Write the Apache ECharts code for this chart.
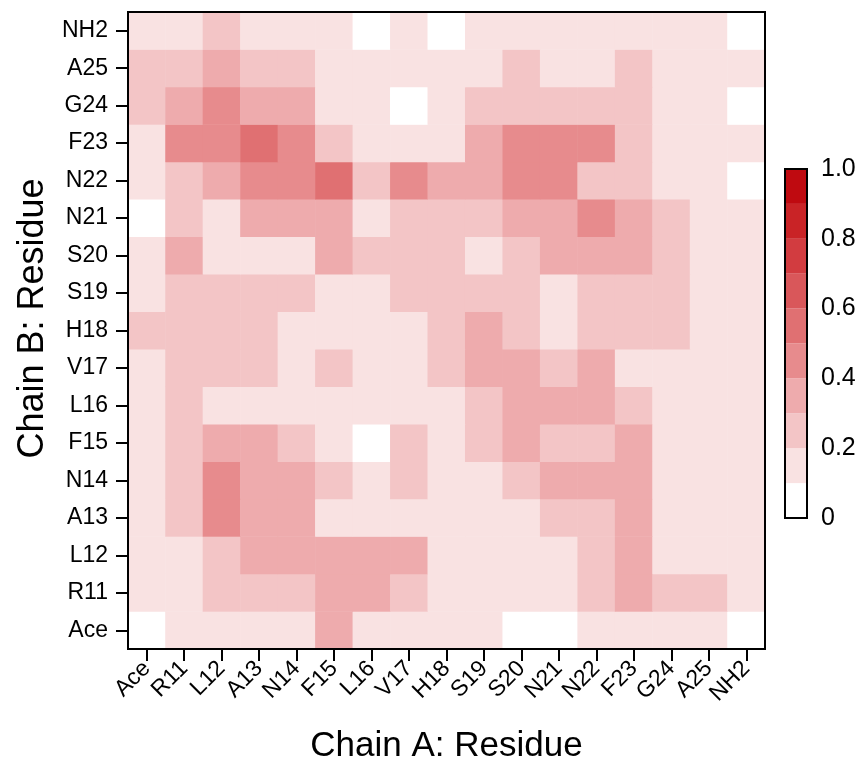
<!DOCTYPE html>
<html>
<head>
<meta charset="utf-8">
<script src="https://cdn.jsdelivr.net/npm/echarts@6/dist/echarts.min.js"></script>
<style>
  html, body { margin: 0; padding: 0; background: #fff; }
  #chart { width: 868px; height: 767px; }
</style>
</head>
<body>
<div id="chart"></div>
<script>
  // residues, same order on both chains
  var residues = ['Ace', 'R11', 'L12', 'A13', 'N14', 'F15', 'L16', 'V17', 'H18',
                  'S19', 'S20', 'N21', 'N22', 'F23', 'G24', 'A25', 'NH2'];

  // contact values, one row per Chain B residue, columns follow Chain A
  var rowNH2 = [0.15,0.15,0.25,0.15,0.15,0.15,0.05,0.15,0.05,0.15,0.15,0.15,0.15,0.15,0.15,0.15,0.05];
  var rowA25 = [0.25,0.25,0.35,0.25,0.25,0.15,0.15,0.15,0.15,0.15,0.25,0.15,0.15,0.25,0.15,0.15,0.15];
  var rowG24 = [0.25,0.35,0.45,0.35,0.35,0.15,0.15,0.05,0.15,0.25,0.25,0.25,0.25,0.25,0.15,0.15,0.05];
  var rowF23 = [0.15,0.45,0.45,0.55,0.45,0.25,0.15,0.15,0.15,0.35,0.45,0.45,0.45,0.25,0.15,0.15,0.15];
  var rowN22 = [0.15,0.25,0.35,0.45,0.45,0.55,0.25,0.45,0.35,0.35,0.45,0.45,0.25,0.25,0.15,0.15,0.05];
  var rowN21 = [0.05,0.25,0.15,0.35,0.35,0.35,0.15,0.25,0.25,0.25,0.35,0.35,0.45,0.35,0.25,0.15,0.15];
  var rowS20 = [0.15,0.35,0.15,0.15,0.15,0.35,0.25,0.25,0.25,0.15,0.25,0.35,0.35,0.35,0.25,0.15,0.15];
  var rowS19 = [0.15,0.25,0.25,0.25,0.25,0.15,0.15,0.25,0.25,0.25,0.25,0.15,0.25,0.25,0.25,0.15,0.15];
  var rowH18 = [0.25,0.25,0.25,0.25,0.15,0.15,0.15,0.15,0.25,0.35,0.25,0.15,0.25,0.25,0.25,0.15,0.15];
  var rowV17 = [0.15,0.25,0.25,0.25,0.15,0.25,0.15,0.15,0.25,0.35,0.35,0.25,0.35,0.15,0.15,0.15,0.15];
  var rowL16 = [0.15,0.25,0.15,0.15,0.15,0.15,0.15,0.15,0.15,0.25,0.35,0.35,0.35,0.25,0.15,0.15,0.15];
  var rowF15 = [0.15,0.25,0.35,0.35,0.25,0.15,0.05,0.25,0.15,0.25,0.35,0.25,0.25,0.35,0.15,0.15,0.15];
  var rowN14 = [0.15,0.25,0.45,0.35,0.35,0.25,0.15,0.25,0.15,0.15,0.25,0.35,0.35,0.35,0.15,0.15,0.15];
  var rowA13 = [0.15,0.25,0.45,0.35,0.35,0.15,0.15,0.15,0.15,0.15,0.15,0.25,0.25,0.35,0.15,0.15,0.15];
  var rowL12 = [0.15,0.15,0.25,0.35,0.35,0.35,0.35,0.35,0.15,0.15,0.15,0.15,0.25,0.35,0.15,0.15,0.15];
  var rowR11 = [0.15,0.15,0.25,0.25,0.25,0.35,0.35,0.25,0.15,0.15,0.15,0.15,0.25,0.35,0.25,0.25,0.15];
  var rowAce = [0.05,0.15,0.15,0.15,0.15,0.35,0.15,0.15,0.15,0.15,0.05,0.05,0.15,0.15,0.15,0.15,0.05];

  // bottom (Ace) to top (NH2), like the y axis
  var rows = [rowAce, rowR11, rowL12, rowA13, rowN14, rowF15, rowL16, rowV17, rowH18,
              rowS19, rowS20, rowN21, rowN22, rowF23, rowG24, rowA25, rowNH2];

  // colour scale: band edges and colours
  var levelEdges = [0, 0.1, 0.2, 0.3, 0.4, 0.5, 0.6, 0.7, 0.8, 0.9, 1.0];
  var levelColors = ['#ffffff', '#f9e2e2', '#f3c5c6', '#eeabad', '#e78b8d',
                     '#e07072', '#d9575a', '#d23c40', '#c92326', '#bf0a10'];
  var scaleTicks = [0, 0.2, 0.4, 0.6, 0.8, 1.0];

  var heatData = [];
  for (var y = 0; y < rows.length; y++) {
    for (var x = 0; x < rows[y].length; x++) {
      heatData.push([x, y, rows[y][x]]);
    }
  }

  var pieces = [];
  for (var i = 0; i < levelColors.length; i++) {
    pieces.push({ gte: levelEdges[i], lt: levelEdges[i + 1], color: levelColors[i] });
  }
  pieces[pieces.length - 1].lte = 1.0;
  delete pieces[pieces.length - 1].lt;

  var font = 'Liberation Sans, Arial, sans-serif';

  var series = [{
    type: 'heatmap',
    xAxisIndex: 0,
    yAxisIndex: 0,
    data: heatData,
    itemStyle: { borderWidth: 0 },
    emphasis: { disabled: true },
    z: 2
  }];
  // colour bar as stacked bars
  for (var b = 0; b < levelColors.length; b++) {
    series.push({
      type: 'bar',
      xAxisIndex: 1,
      yAxisIndex: 1,
      stack: 'scale',
      barWidth: '100%',
      silent: true,
      data: [+(levelEdges[b + 1] - levelEdges[b]).toFixed(2)],
      itemStyle: { color: levelColors[b] },
      z: 2
    });
  }

  var chart = echarts.init(document.getElementById('chart'));
  chart.setOption({
    animation: false,
    backgroundColor: '#fff',
    textStyle: { fontFamily: font, color: '#000' },
    grid: [
      { left: 128, top: 12, width: 637, height: 637, show: true, z: 10,
        outerBoundsMode: 'none', containLabel: false,
        backgroundColor: 'transparent', borderColor: '#000', borderWidth: 2 },
      { left: 785, top: 169, width: 22, height: 349, show: true, z: 10,
        outerBoundsMode: 'none', containLabel: false,
        backgroundColor: 'transparent', borderColor: '#000', borderWidth: 2 }
    ],
    visualMap: {
      type: 'piecewise',
      show: false,
      seriesIndex: 0,
      pieces: pieces
    },
    xAxis: [{
      type: 'category',
      gridIndex: 0,
      data: residues,
      name: 'Chain A: Residue',
      nameLocation: 'middle',
      nameGap: 80,
      nameTextStyle: { fontSize: 35, color: '#000', fontFamily: font },
      axisLine: { show: false },
      axisTick: { show: true, alignWithLabel: true, length: 12, lineStyle: { color: '#000', width: 2 } },
      axisLabel: { rotate: 45, fontSize: 23, color: '#000', margin: 16, interval: 0, fontFamily: font },
      splitLine: { show: false }
    }, {
      type: 'category',
      gridIndex: 1,
      data: [''],
      axisLine: { show: false },
      axisTick: { show: false },
      axisLabel: { show: false }
    }],
    yAxis: [{
      type: 'category',
      gridIndex: 0,
      data: residues,
      name: 'Chain B: Residue',
      nameLocation: 'middle',
      nameGap: 76,
      nameTextStyle: { fontSize: 36, color: '#000', fontFamily: font, padding: [0, 0, 0, 24] },
      axisLine: { show: false },
      axisTick: { show: true, alignWithLabel: true, length: 12, lineStyle: { color: '#000', width: 2 } },
      axisLabel: { fontSize: 23, color: '#000', margin: 20, interval: 0, fontFamily: font },
      splitLine: { show: false }
    }, {
      type: 'value',
      gridIndex: 1,
      position: 'right',
      min: scaleTicks[0],
      max: scaleTicks[scaleTicks.length - 1],
      interval: scaleTicks[1] - scaleTicks[0],
      axisLine: { show: false },
      axisTick: { show: false },
      splitLine: { show: false },
      axisLabel: {
        fontSize: 25, color: '#000', margin: 14, fontFamily: font,
        formatter: function (v) { return v === 0 ? '0' : v.toFixed(1); }
      }
    }],
    series: series
  });
</script>
</body>
</html>
